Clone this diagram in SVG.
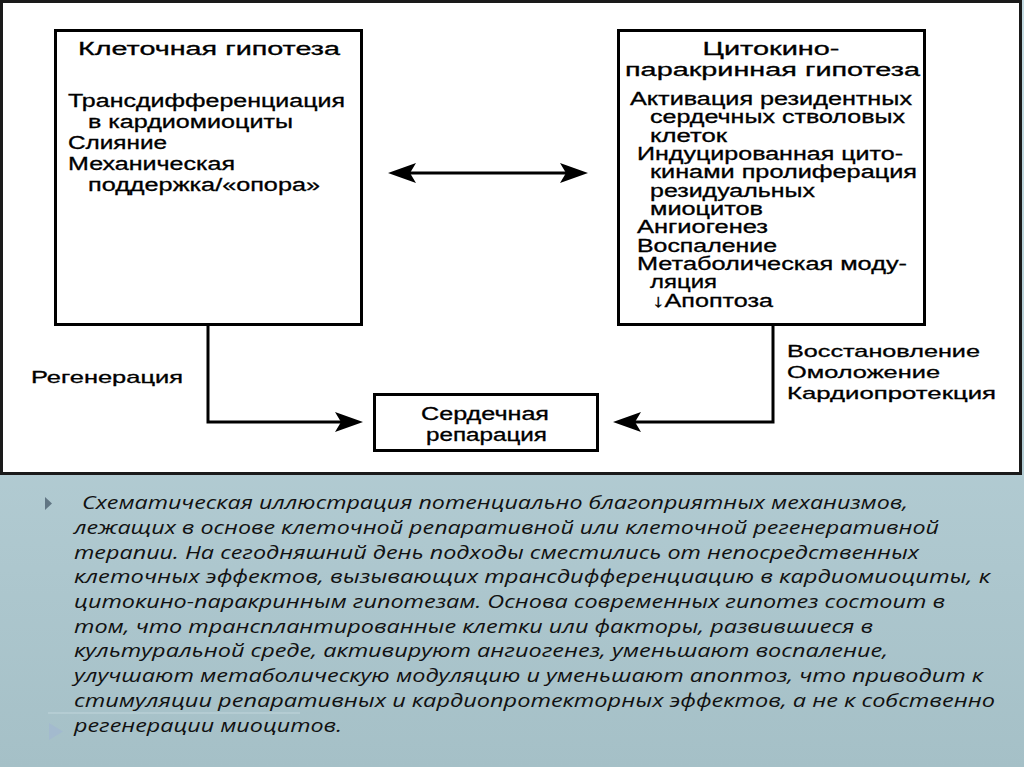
<svg xmlns="http://www.w3.org/2000/svg" width="1024" height="767" viewBox="0 0 1024 767">
<defs>
<linearGradient id="bg" x1="0" y1="0" x2="0" y2="1">
<stop offset="0" stop-color="#c4dbe2"/>
<stop offset="1" stop-color="#a5c0c7"/>
</linearGradient>
<marker id="ah" viewBox="0 0 28 20" refX="8" refY="10" markerWidth="28" markerHeight="20" markerUnits="userSpaceOnUse" orient="auto-start-reverse">
<path d="M0,0 L28,10 L0,20 L6,10 Z" fill="#000"/>
</marker>
<style>
.box{fill:#fff;stroke:#000;stroke-width:3}
.t{font-family:"Liberation Sans",Arial,sans-serif;font-size:18px;fill:#000;stroke:#000;stroke-width:0.3}
.s{font-family:"Liberation Sans",Arial,sans-serif;font-size:17px;fill:#000;stroke:#000;stroke-width:0.3}
.c{text-anchor:middle}
.con{fill:none;stroke:#000;stroke-width:3}
.cap{font-family:"Open Sans","Noto Sans",sans-serif;font-style:italic;font-size:18px;fill:#111}
</style>
</defs>
<rect x="0" y="0" width="1024" height="767" fill="url(#bg)"/>
<rect x="1.5" y="1.5" width="1019" height="472" fill="#fff" stroke="#1a1a1a" stroke-width="3"/>

<g id="cell-hypothesis">
<rect class="box" x="55.5" y="30.5" width="306" height="294"/>
<text class="t c" x="209" y="55" textLength="262" lengthAdjust="spacingAndGlyphs">Клеточная гипотеза</text>
<text class="t" x="68" y="107" textLength="277" lengthAdjust="spacingAndGlyphs">Трансдифференциация</text>
<text class="t" x="88" y="128" textLength="205" lengthAdjust="spacingAndGlyphs">в кардиомиоциты</text>
<text class="t" x="68" y="149" textLength="99" lengthAdjust="spacingAndGlyphs">Слияние</text>
<text class="t" x="68" y="170" textLength="167" lengthAdjust="spacingAndGlyphs">Механическая</text>
<text class="t" x="88" y="191" textLength="232" lengthAdjust="spacingAndGlyphs">поддержка/«опора»</text>
</g>

<g id="cytokine-hypothesis">
<rect class="box" x="618.5" y="30.5" width="306" height="294"/>
<text class="t c" x="771" y="55" textLength="137" lengthAdjust="spacingAndGlyphs">Цитокино-</text>
<text class="t c" x="772.5" y="76" textLength="295" lengthAdjust="spacingAndGlyphs">паракринная гипотеза</text>
<text class="t" x="630" y="105" textLength="282" lengthAdjust="spacingAndGlyphs">Активация резидентных</text>
<text class="t" x="650" y="123.3" textLength="255" lengthAdjust="spacingAndGlyphs">сердечных стволовых</text>
<text class="t" x="650" y="141.7" textLength="77" lengthAdjust="spacingAndGlyphs">клеток</text>
<text class="t" x="637" y="160" textLength="266" lengthAdjust="spacingAndGlyphs">Индуцированная цито-</text>
<text class="t" x="650" y="178.3" textLength="267" lengthAdjust="spacingAndGlyphs">кинами пролиферация</text>
<text class="t" x="650" y="196.7" textLength="165" lengthAdjust="spacingAndGlyphs">резидуальных</text>
<text class="t" x="650" y="215" textLength="113" lengthAdjust="spacingAndGlyphs">миоцитов</text>
<text class="t" x="637" y="233.3" textLength="131" lengthAdjust="spacingAndGlyphs">Ангиогенез</text>
<text class="t" x="637" y="251.7" textLength="140" lengthAdjust="spacingAndGlyphs">Воспаление</text>
<text class="t" x="637" y="270" textLength="270" lengthAdjust="spacingAndGlyphs">Метаболическая моду-</text>
<text class="t" x="650" y="288.3" textLength="67" lengthAdjust="spacingAndGlyphs">ляция</text>
<text class="t" x="652" y="306.7" textLength="121" lengthAdjust="spacingAndGlyphs">↓Апоптоза</text>
</g>

<g id="cardiac-repair">
<rect class="box" x="374.5" y="394.5" width="223" height="56"/>
<text class="t c" x="485" y="420" textLength="128" lengthAdjust="spacingAndGlyphs">Сердечная</text>
<text class="t c" x="486.5" y="441" textLength="121" lengthAdjust="spacingAndGlyphs">репарация</text>
</g>

<g id="connectors">
<path class="con" d="M408,173 H568" marker-start="url(#ah)" marker-end="url(#ah)"/>
<path class="con" d="M208,325 V422 H343" marker-end="url(#ah)"/>
<path class="con" d="M773,325 V422 H633" marker-end="url(#ah)"/>
</g>

<g id="labels">
<text class="s" x="31" y="383" textLength="152" lengthAdjust="spacingAndGlyphs">Регенерация</text>
<text class="s" x="787" y="357" textLength="193" lengthAdjust="spacingAndGlyphs">Восстановление</text>
<text class="s" x="787" y="378" textLength="153" lengthAdjust="spacingAndGlyphs">Омоложение</text>
<text class="s" x="787" y="399" textLength="209" lengthAdjust="spacingAndGlyphs">Кардиопротекция</text>
</g>

<g id="caption">
<polygon points="45,497 52,503.5 45,510" fill="#617684"/>
<line x1="48" y1="713" x2="300" y2="713" stroke="#d4e4ea" stroke-width="1" opacity="0.6"/>
<polygon points="49,723 63,731.5 49,740" fill="#a3bace"/>
<text class="cap" x="82" y="509" textLength="826" lengthAdjust="spacingAndGlyphs">Схематическая иллюстрация потенциально благоприятных механизмов,</text>
<text class="cap" x="74" y="534" textLength="865" lengthAdjust="spacingAndGlyphs">лежащих в основе клеточной репаративной или клеточной регенеративной</text>
<text class="cap" x="74" y="558.5" textLength="845" lengthAdjust="spacingAndGlyphs">терапии. На сегодняшний день подходы сместились от непосредственных</text>
<text class="cap" x="74" y="583" textLength="916" lengthAdjust="spacingAndGlyphs">клеточных эффектов, вызывающих трансдифференциацию в кардиомиоциты, к</text>
<text class="cap" x="74" y="608" textLength="871" lengthAdjust="spacingAndGlyphs">цитокино-паракринным гипотезам. Основа современных гипотез состоит в</text>
<text class="cap" x="74" y="632.5" textLength="799" lengthAdjust="spacingAndGlyphs">том, что трансплантированные клетки или факторы, развившиеся в</text>
<text class="cap" x="74" y="657" textLength="814" lengthAdjust="spacingAndGlyphs">культуральной среде, активируют ангиогенез, уменьшают воспаление,</text>
<text class="cap" x="74" y="682" textLength="909" lengthAdjust="spacingAndGlyphs">улучшают метаболическую модуляцию и уменьшают апоптоз, что приводит к</text>
<text class="cap" x="74" y="707" textLength="921" lengthAdjust="spacingAndGlyphs">стимуляции репаративных и кардиопротекторных эффектов, а не к собственно</text>
<text class="cap" x="74" y="732" textLength="268" lengthAdjust="spacingAndGlyphs">регенерации миоцитов.</text>
</g>
</svg>
